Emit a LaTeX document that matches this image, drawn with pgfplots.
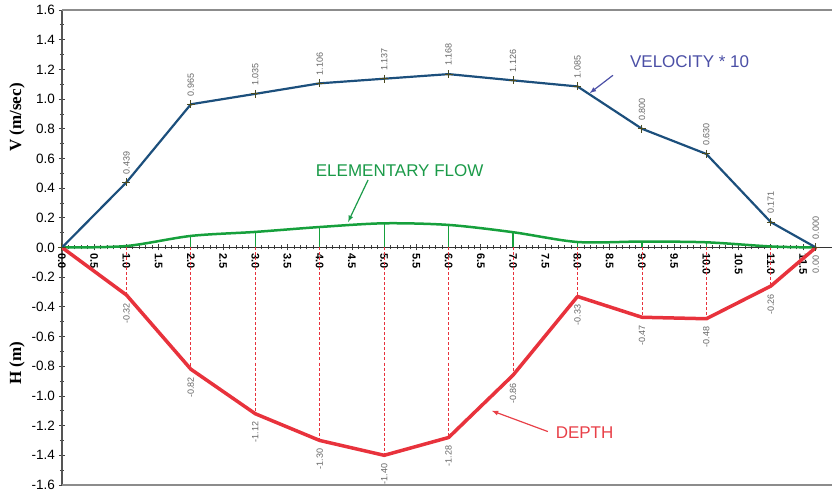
\documentclass[border=0pt]{standalone}
\usepackage{pgfplots}
\pgfplotsset{compat=1.18}
\usepackage{fontspec}
\setmainfont{Liberation Sans}
\newfontfamily\serifb{Liberation Serif}
\definecolor{velblue}{HTML}{1C4F7C}
\definecolor{flowgreen}{HTML}{16A03C}
\definecolor{depthred}{HTML}{E8323C}
\definecolor{veltext}{HTML}{4B4FA6}
\definecolor{flowtext}{HTML}{1A9A48}
\definecolor{depthtext}{HTML}{E84048}
\definecolor{markolive}{HTML}{4A4A20}
\definecolor{axisgray}{HTML}{555555}
\begin{document}
\begin{tikzpicture}
\begin{axis}[
  scale only axis, width=770pt, height=475pt,
  xmin=0, xmax=11.95, ymin=-1.6, ymax=1.6,
  axis x line=middle, axis y line=left,
  hide obscured x ticks=false,
  x axis line style={-, draw=black!80, line width=1pt},
  y axis line style={-, draw=axisgray, line width=2pt},
  xtick={0,0.5,1,1.5,2,2.5,3,3.5,4,4.5,5,5.5,6,6.5,7,7.5,8,8.5,9,9.5,10,10.5,11,11.5},
  minor x tick num=4,
  ytick={-1.6,-1.4,-1.2,-1.0,-0.8,-0.6,-0.4,-0.2,0,0.2,0.4,0.6,0.8,1.0,1.2,1.4,1.6},
  minor y tick num=1,
  tick align=center, major tick length=6pt, minor tick length=4pt,
  tick style={color=black!75, line width=0.8pt},
  xticklabel={\pgfmathprintnumber[fixed,fixed zerofill,precision=1,assume math mode=true]{\tick}},
  yticklabel={\pgfmathprintnumber[fixed,fixed zerofill,precision=1,assume math mode=true]{\tick}},
  xticklabel style={rotate=-90, anchor=west, font=\bfseries\fontsize{11}{12}\selectfont, inner sep=3pt},
  yticklabel style={font=\fontsize{13.5}{15}\selectfont, inner sep=4pt},
  clip=false,
]
% elementary flow verticals
\addplot[flowgreen, line width=1.2pt, ycomb] coordinates {
 (1,0.010) (2,0.078) (3,0.105) (4,0.138) (5,0.163) (6,0.152) (7,0.103) (8,0.037) (9,0.040) (10,0.035) (11,0.007)};
% depth droplines
\addplot[depthred, line width=0.8pt, densely dashed, ycomb] coordinates {
 (1,-0.32) (2,-0.82) (3,-1.12) (4,-1.30) (5,-1.40) (6,-1.28) (7,-0.86) (8,-0.33) (9,-0.47) (10,-0.48) (11,-0.26)};
% elementary flow curve
\addplot[flowgreen, line width=2.5pt, smooth, tension=0.5] coordinates {
 (0,0) (1,0.010) (2,0.078) (3,0.105) (4,0.138) (5,0.163) (6,0.152) (7,0.103) (8,0.037) (9,0.040) (10,0.035) (11,0.007) (11.7,0)};
% depth
\addplot[depthred, line width=3.5pt, line join=round] coordinates {
 (0,0) (1,-0.32) (2,-0.82) (3,-1.12) (4,-1.30) (5,-1.40) (6,-1.28) (7,-0.86) (8,-0.33) (9,-0.47) (10,-0.48) (11,-0.26) (11.7,0)};
% velocity
\addplot[velblue, line width=2.2pt, mark=+, mark size=4pt, mark options={draw=markolive, line width=1pt}] coordinates {
 (0,0) (1,0.439) (2,0.965) (3,1.035) (4,1.106) (5,1.137) (6,1.168) (7,1.126) (8,1.085) (9,0.800) (10,0.630) (11,0.171) (11.7,0)};
% velocity labels
\addplot[draw=none, nodes near coords, point meta=y,
  every node near coord/.append style={rotate=90, anchor=west, inner sep=8pt, text=black!60, font=\fontsize{9}{10}\selectfont,
  /pgf/number format/.cd, fixed, fixed zerofill, precision=3, assume math mode=true}] coordinates {
 (1,0.439) (2,0.965) (3,1.035) (4,1.106) (5,1.137) (6,1.168) (7,1.126) (8,1.085) (9,0.800) (10,0.630) (11,0.171) (11.7,0)};
% depth labels
\addplot[draw=none, nodes near coords, point meta=y,
  every node near coord/.append style={rotate=90, anchor=east, inner sep=8pt, text=black!60, font=\fontsize{9}{10}\selectfont,
  /pgf/number format/.cd, fixed, fixed zerofill, precision=2, assume math mode=true}] coordinates {
 (1,-0.32) (2,-0.82) (3,-1.12) (4,-1.30) (5,-1.40) (6,-1.28) (7,-0.86) (8,-0.33) (9,-0.47) (10,-0.48) (11,-0.26) (11.7,0)};
% annotations
\node[text=veltext, font=\fontsize{17}{18}\selectfont] at (axis cs:9.74,1.25) {VELOCITY * 10};
\draw[veltext, line width=1.2pt, -latex] (axis cs:8.55,1.16) -- (axis cs:8.19,1.04);
\node[text=flowtext, font=\fontsize{17}{18}\selectfont] at (axis cs:5.24,0.52) {ELEMENTARY FLOW};
\draw[flowtext, line width=1.2pt, -latex] (axis cs:4.75,0.455) -- (axis cs:4.44,0.172);
\node[text=depthtext, font=\fontsize{17}{18}\selectfont] at (axis cs:8.11,-1.25) {DEPTH};
\draw[depthtext, line width=1.2pt, -latex] (axis cs:7.54,-1.24) -- (axis cs:6.67,-1.10);
% axis labels
\node[rotate=90, font=\serifb\bfseries\fontsize{17}{18}\selectfont] at ([xshift=-45pt]axis cs:0,0.876) {V (m/sec)};
\node[rotate=90, font=\serifb\bfseries\fontsize{17}{18}\selectfont] at ([xshift=-45pt]axis cs:0,-0.78) {H (m)};
% frame top and bottom
\draw[black!45, line width=1.5pt] (rel axis cs:0,1) -- (rel axis cs:1,1);
\draw[black!45, line width=1.5pt] (rel axis cs:0,0) -- (rel axis cs:1,0);
\coordinate (bl) at (rel axis cs:0,0);
\coordinate (tr) at (rel axis cs:1,1);
\end{axis}
\pgfresetboundingbox
\path[use as bounding box] ([xshift=-62pt,yshift=-5pt]bl) rectangle ([yshift=10pt]tr);
\end{tikzpicture}
\end{document}
